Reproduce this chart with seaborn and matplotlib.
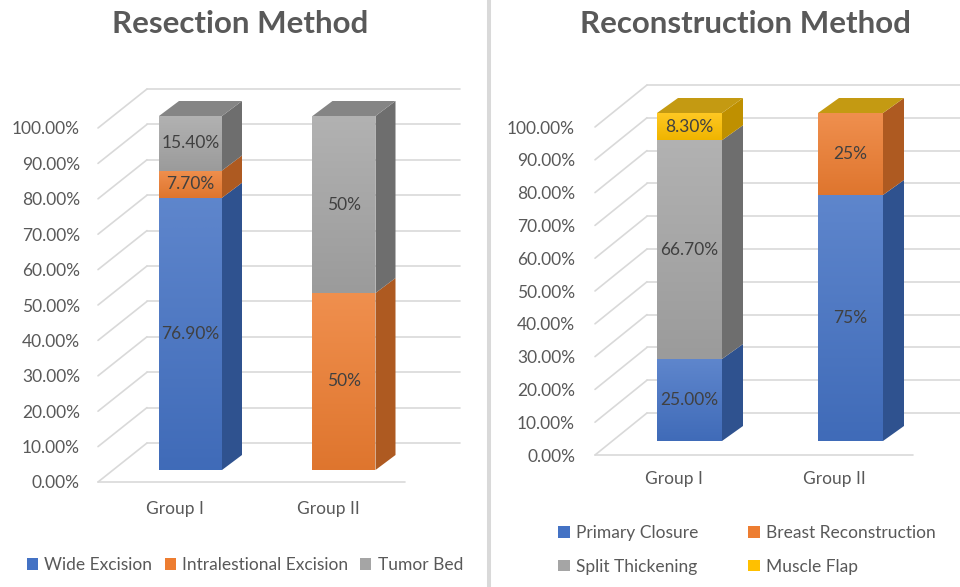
import numpy as np
import matplotlib
matplotlib.use("Agg")
import matplotlib.pyplot as plt
import seaborn as sns
from matplotlib.patches import Polygon, Patch
from matplotlib.lines import Line2D
from matplotlib.transforms import ScaledTranslation
from matplotlib.colors import to_rgb, LinearSegmentedColormap

# Data.
groups = ["Group I", "Group II"]

resection_series = ["Wide Excision", "Intralestional Excision", "Tumor Bed"]
wide_excision = [76.9, 0]
intralesional_excision = [7.7, 50]
tumor_bed = [15.4, 50]
resection_labels = [["76.90%", ""], ["7.70%", "50%"], ["15.40%", "50%"]]

reconstruction_series = ["Primary Closure", "Breast Reconstruction", "Split Thickening", "Muscle Flap"]
primary_closure = [25.0, 75]
breast_reconstruction = [0, 25]
split_thickening = [66.7, 0]
muscle_flap = [8.3, 0]
reconstruction_labels = [["25.00%", "75%"], ["", "25%"], ["66.70%", ""], ["8.30%", ""]]

yticks = list(range(0, 101, 10))

# Excel-like palette: front colour, side colour, top colour.
front = {'blue': '#4472C4', 'orange': '#ED7D31', 'grey': '#A5A5A5', 'gold': '#FFC000'}
side = {'blue': '#2F528F', 'orange': '#AE5A21', 'grey': '#6E6E6E', 'gold': '#BF9000'}
top_face = {'grey': '#858585', 'gold': '#C49A12'}

sns.set_style("white")
plt.rcParams['font.family'] = ['Lato', 'DejaVu Sans']
TXT = '#595959'
GRID = '#D9D9D9'
FS = 12.5

W, H = 960, 587
fig = plt.figure(figsize=(W / 100, H / 100), dpi=100)
fig.patch.set_facecolor('white')


def mix(c, other, t):
    c, other = np.array(to_rgb(c)), np.array(to_rgb(other))
    return tuple(c * (1 - t) + other * t)


def panel(g, title, series, values, labels, keys):
    ax = fig.add_axes([g['left'] / W, 1 - g['bottom'] / H,
                       (g['right'] - g['left']) / W, (g['bottom'] - g['top']) / H])
    sx = 1 / g['spacing']                 # data units per pixel, x
    sy = 100 / (g['bottom'] - g['top'])   # data units per pixel, y
    xl = (g['left'] - g['c0']) / g['spacing']
    xr = (g['right'] - g['c0']) / g['spacing']
    bw = g['bar_w'] * sx
    dx, dy = g['depth'][0] * sx, g['depth'][1] * sy

    # stacked bars (front faces)
    bottoms = np.zeros(len(groups))
    for name, vals, k in zip(series, values, keys):
        sns.barplot(x=groups, y=vals, bottom=bottoms.copy(), color=front[k], width=bw,
                    saturation=1, errorbar=None, linewidth=0, ax=ax, zorder=2)
        bottoms += np.array(vals, dtype=float)
    bars = list(ax.patches)
    n = len(groups)

    for i, k in enumerate(keys):
        cmap = LinearSegmentedColormap.from_list(k, [mix(front[k], 'black', 0.06), mix(front[k], 'white', 0.14)])
        for j in range(n):
            p = bars[i * n + j]
            x0, w, y0, h = p.get_x(), p.get_width(), p.get_y(), p.get_height()
            if h <= 0:
                continue
            ax.imshow(np.linspace(0, 1, 64).reshape(-1, 1), extent=(x0, x0 + w, y0, y0 + h),
                      origin='lower', cmap=cmap, aspect='auto', zorder=2.1, interpolation='bicubic')
            x1, y1 = x0 + w, y0 + h
            ax.add_patch(Polygon([(x1, y0), (x1 + dx, y0 + dy), (x1 + dx, y1 + dy), (x1, y1)],
                                 closed=True, facecolor=side[k], edgecolor='none', zorder=2.2,
                                 clip_on=False))
            if labels[i][j]:
                ax.text(x0 + w / 2, y0 + h / 2, labels[i][j], ha='center', va='center',
                        fontsize=FS, color='#404040', zorder=4)

    # top faces use the top series colour
    for j in range(n):
        p = bars[j]
        x0, w = p.get_x(), p.get_width()
        yt = bottoms[j]
        ax.add_patch(Polygon([(x0, yt), (x0 + w, yt), (x0 + w + dx, yt + dy), (x0 + dx, yt + dy)],
                             closed=True, facecolor=top_face[keys[-1]], edgecolor='none', zorder=2.3,
                             clip_on=False))

    # perspective wall / floor gridlines
    fy = g['front_dy'] * sy
    by = g['back_dy'] * sy
    bx = (g['back_x'] - g['c0']) * sx
    for t in yticks:
        ax.plot([bx, xr], [t + by, t + by], color=GRID, lw=1.2, zorder=0.5, clip_on=False)
        ax.plot([xl, bx], [t + fy, t + by], color=GRID, lw=1.2, zorder=0.5, clip_on=False)
    ax.plot([xl, (g['floor_r'] - g['c0']) * sx], [fy, fy], color=GRID, lw=1.2, zorder=0.5, clip_on=False)

    ax.set_xlim(xl, xr)
    ax.set_ylim(0, 100)
    ax.set_aspect('auto')
    ax.set_facecolor('none')
    for s in ax.spines.values():
        s.set_visible(False)
    ax.set_xlabel('')
    ax.set_ylabel('')
    ax.grid(False)
    ax.set_yticks(yticks)
    ax.set_yticklabels([f"{t:.2f}%" for t in yticks])
    ax.tick_params(axis='y', length=0, pad=g['pad'] * 0.72, labelsize=FS, labelcolor=TXT)
    ax.tick_params(axis='x', length=0, pad=g['xpad'] * 0.72, labelsize=FS, labelcolor=TXT)
    yshift = ScaledTranslation(0, g['front_dy'] / 100, fig.dpi_scale_trans)
    for lab in ax.get_yticklabels():
        lab.set_transform(lab.get_transform() + yshift)
    xshift = ScaledTranslation(g['xlab_dx'] / 100, 0, fig.dpi_scale_trans)
    for lab in ax.get_xticklabels():
        lab.set_transform(lab.get_transform() + xshift)

    fig.text(g['title_x'] / W, 1 - 24 / H, title, ha='center', va='center',
             fontsize=22.5, fontweight='bold', color=TXT)
    return ax


left_geom = dict(left=98, right=460, bottom=470, top=116, c0=190.5, spacing=153.5, bar_w=63,
                 depth=(20, 15), front_dy=-12, back_dy=27, back_x=147, floor_r=405,
                 pad=18, xpad=31, xlab_dx=-16, title_x=240)
right_geom = dict(left=595, right=960, bottom=441, top=113, c0=689.5, spacing=161, bar_w=65,
                  depth=(21, 15), front_dy=-14, back_dy=28, back_x=647, floor_r=913,
                  pad=20, xpad=30, xlab_dx=-16, title_x=745)

panel(left_geom, "Resection Method", resection_series,
      [wide_excision, intralesional_excision, tumor_bed], resection_labels,
      ['blue', 'orange', 'grey'])
panel(right_geom, "Reconstruction Method", reconstruction_series,
      [primary_closure, breast_reconstruction, split_thickening, muscle_flap], reconstruction_labels,
      ['blue', 'orange', 'grey', 'gold'])

# legends
h1 = [Patch(facecolor=front[k], edgecolor='none') for k in ['blue', 'orange', 'grey']]
fig.legend(h1, resection_series, loc='center', bbox_to_anchor=(245 / W, 1 - 565 / H), ncol=3,
           frameon=False, handlelength=0.65, handleheight=0.65, handletextpad=0.35,
           columnspacing=0.7, fontsize=FS, labelcolor=TXT)
order = [0, 2, 1, 3]  # row-major fill
h2 = [Patch(facecolor=front[k], edgecolor='none') for k in ['blue', 'orange', 'grey', 'gold']]
fig.legend([h2[i] for i in order], [reconstruction_series[i] for i in order], loc='center',
           bbox_to_anchor=(747 / W, 1 - 550 / H), ncol=2, frameon=False, handlelength=0.65,
           handleheight=0.65, handletextpad=0.35, columnspacing=2.9, labelspacing=1.0,
           fontsize=FS, labelcolor=TXT)

# divider between the two charts
fig.add_artist(Line2D([489 / W, 489 / W], [0, 1], color=GRID, lw=2.9))

plt.savefig('out.png', dpi=100, facecolor='white')
